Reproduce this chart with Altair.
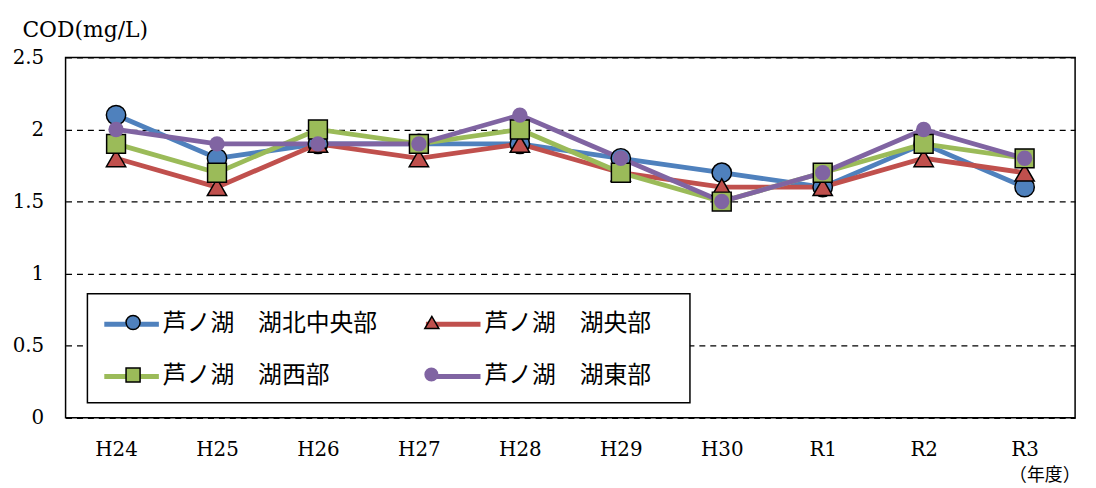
import altair as alt
import pandas as pd

years = ["H24", "H25", "H26", "H27", "H28", "H29", "H30", "R1", "R2", "R3"]
series = ["芦ノ湖　湖北中央部", "芦ノ湖　湖央部", "芦ノ湖　湖西部", "芦ノ湖　湖東部"]
north_central = [2.1, 1.8, 1.9, 1.9, 1.9, 1.8, 1.7, 1.6, 1.9, 1.6]
central = [1.8, 1.6, 1.9, 1.8, 1.9, 1.7, 1.6, 1.6, 1.8, 1.7]
west = [1.9, 1.7, 2.0, 1.9, 2.0, 1.7, 1.5, 1.7, 1.9, 1.8]
east = [2.0, 1.9, 1.9, 1.9, 2.1, 1.8, 1.5, 1.7, 2.0, 1.8]
y_ticks = [0, 0.5, 1, 1.5, 2, 2.5]

colors = ["#4F81BD", "#C0504D", "#9BBB59", "#8064A2"]
outlines = ["black", "black", "black", "#8064A2"]
shapes = ["circle", "triangle-up", "square", "circle"]
marker_sizes = [380, 380, 360, 240]

rows = []
for name, vals in zip(series, [north_central, central, west, east]):
    for yr, v in zip(years, vals):
        rows.append({"year": yr, "series": name, "value": v})
df = pd.DataFrame(rows)

SERIF = "DejaVu Serif"
CJK = "Noto Sans CJK JP"

x_enc = alt.X(
    "year:N", sort=years,
    scale=alt.Scale(type="point", padding=0.5),
    axis=alt.Axis(
        title="（年度）", titleFont=CJK, titleFontSize=18, titleFontWeight="normal",
        titleColor="black", titleX=1022, titleY=58, titleAlign="right",
        titleBaseline="middle", titleAngle=0,
        labelFont=SERIF, labelFontSize=20, labelColor="black", labelPadding=22,
        labelAngle=0, domain=False, ticks=False, tickSize=0, grid=False,
    ),
)
y_enc = alt.Y(
    "value:Q",
    scale=alt.Scale(domain=[0, 2.5], nice=False),
    axis=alt.Axis(
        values=y_ticks, format=".1~f", title="COD(mg/L)", titleFont=SERIF, titleFontSize=22,
        titleFontWeight="normal", titleColor="black", titleAngle=0,
        titleX=-44, titleY=-28, titleAlign="left", titleBaseline="middle",
        labelFont=SERIF, labelFontSize=20, labelColor="black", labelPadding=22,
        domain=False, ticks=False, tickSize=0,
        grid=True, gridColor="black", gridDash=[6, 5], gridWidth=1.3, gridOpacity=1,
    ),
)

legend_a = alt.Legend(
    title="＿", titleOrient="right", titleFontSize=21, titleColor="transparent",
    titlePadding=4, titleFont=CJK,
    orient="none", direction="horizontal", legendX=22, legendY=238, columns=2,
    columnPadding=39, rowPadding=24, padding=14,
    symbolType="M-2,0H2", symbolSize=756, symbolStrokeWidth=5, symbolOffset=14,
    labelFont=CJK, labelFontSize=24, labelColor="black", labelOffset=15, labelLimit=0,
    strokeColor="black", fillColor="white",
)

lines = alt.Chart(df).mark_line(strokeWidth=4.8).encode(
    x=x_enc, y=y_enc,
    stroke=alt.Stroke("series:N", sort=series,
                      scale=alt.Scale(domain=series, range=colors), legend=legend_a),
)

# marker legend positions (relative to plot origin): one single-entry legend per series
marker_legend_xy = [(60, 259), (361, 259), (60, 312), (361, 312)]

point_layers = []
for i, name in enumerate(series):
    lx, ly = marker_legend_xy[i]
    sw = 0 if i == 3 else 1.5
    leg = alt.Legend(
        title=None, orient="none", legendX=lx, legendY=ly, padding=0,
        symbolType=shapes[i], symbolSize=200, symbolStrokeWidth=sw,
        symbolStrokeColor=outlines[i], symbolOpacity=1,
        labelFontSize=1, labelOpacity=0, labelOffset=0,
    )
    layer = alt.Chart(df).transform_filter(alt.datum.series == name).mark_point(
        filled=True, opacity=1, shape=shapes[i], size=marker_sizes[i],
        stroke=outlines[i], strokeWidth=sw,
    ).encode(
        x=x_enc, y=y_enc,
        color=alt.Color("series:N", scale=alt.Scale(domain=[name], range=[colors[i]]), legend=leg),
    )
    point_layers.append(layer)

chart = alt.layer(lines, *point_layers).resolve_scale(color="independent").resolve_legend(
    color="independent"
).properties(
    width=1017, height=363,
    autosize=alt.AutoSizeParams(type="none"),
    padding={"left": 58, "top": 48, "right": 13, "bottom": 69},
).configure_view(stroke="black", strokeWidth=1.5).configure_legend(strokeWidth=1.5)

chart.save("out.html", embed_options={"renderer": "svg", "actions": False})
